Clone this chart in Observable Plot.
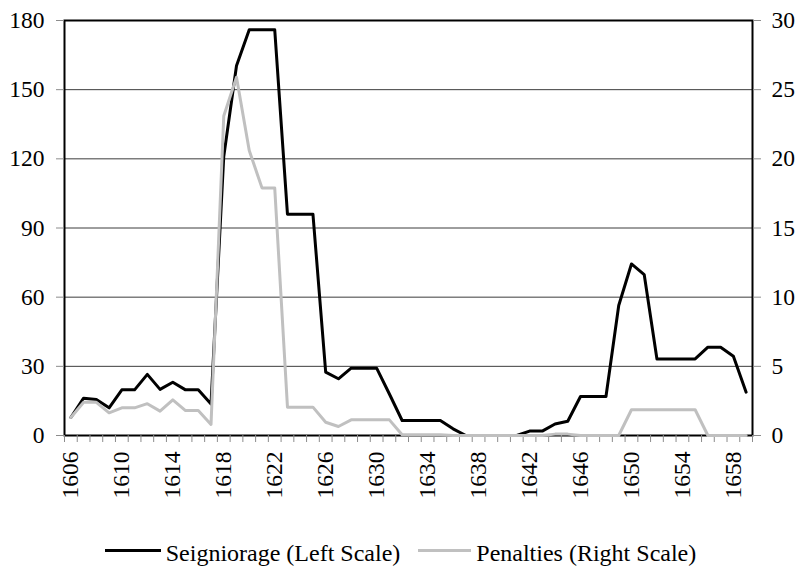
<!DOCTYPE html>
<html><head><meta charset="utf-8">
<script src="https://cdn.jsdelivr.net/npm/d3@7"></script>
<script src="https://cdn.jsdelivr.net/npm/@observablehq/plot@0.6"></script>
<style>
body{margin:0;background:#fff;font-family:'Liberation Serif',Tinos,'Times New Roman',Times,'DejaVu Serif',serif;}
#chart svg{display:block;}
#legend{display:flex;justify-content:center;align-items:center;height:27px;margin-top:20px;font-size:24px;line-height:27px;color:#000;}
.sw{display:inline-block;width:56px;height:3px;position:relative;top:-3px;}
.lab{margin-left:5px;}
.gap{width:18px;}
</style></head><body><div id="chart"></div><div id="legend"></div>
<script>
const years = [1606,1607,1608,1609,1610,1611,1612,1613,1614,1615,1616,1617,1618,1619,1620,1621,1622,1623,1624,1625,1626,1627,1628,1629,1630,1631,1632,1633,1634,1635,1636,1637,1638,1639,1640,1641,1642,1643,1644,1645,1646,1647,1648,1649,1650,1651,1652,1653,1654,1655,1656,1657,1658,1659];
const seigniorage = [7.8,16.2,15.6,12,19.8,19.8,26.5,20,23.1,19.8,19.8,13.7,121,160.4,176,176,176,96,96,96,27.5,24.6,29.2,29.2,29.2,18,6.5,6.5,6.5,6.5,2.9,0,0,0,0,0,1.9,1.9,5,6.2,16.9,16.9,16.9,56.4,74.4,69.8,33.2,33.2,33.2,33.2,38.3,38.3,34.4,18.8];
const penalties = [1.3,2.4,2.4,1.64,2.0,2.0,2.3,1.76,2.58,1.8,1.8,0.8,23.1,25.9,20.6,17.9,17.9,2.05,2.05,2.05,0.96,0.65,1.13,1.13,1.13,1.13,0.05,0.05,0.05,0.05,0,0,0,0,0,0,0,0,0.1,0.1,0,0,0,0,1.86,1.86,1.86,1.86,1.86,1.86,0,0,0,0];
const leftTicks = [0,30,60,90,120,150,180];
const rightTicks = [0,5,10,15,20,25,30];
const xTickYears = [1606,1610,1614,1618,1622,1626,1630,1634,1638,1642,1646,1650,1654,1658];
const seriesNames = ["Seigniorage (Left Scale)","Penalties (Right Scale)"];
const seriesColors = ["#000000","#c0c0c0"];

const ratio = leftTicks[leftTicks.length-1] / rightTicks[rightTicks.length-1];
const rows = years.map((year,i)=>({year, s: seigniorage[i], p: penalties[i]*ratio}));
const bounds = years.map(y=>y-0.5).concat([years[years.length-1]+0.5]);
const font = "'Liberation Serif', Tinos, 'Times New Roman', Times, 'DejaVu Serif', serif";

const plot = Plot.plot({
  width: 801, height: 520,
  marginLeft: 64, marginRight: 49, marginTop: 20, marginBottom: 85,
  x: {type: "linear", domain: [bounds[0], bounds[bounds.length-1]]},
  y: {domain: [leftTicks[0], leftTicks[leftTicks.length-1]]},
  style: {fontFamily: font, fontSize: "23.5px", background: "#fff", color: "#000"},
  marks: [
    Plot.ruleY(leftTicks.slice(1, -1), {stroke: "#3c3c3c", strokeWidth: 1}),
    Plot.frame({stroke: "#000", strokeWidth: 2}),
    Plot.axisY({ticks: leftTicks, tickSize: 8, tickPadding: 12, stroke: "#8c8c8c", fill: "#000", label: null, fontSize: 23.5, fontFamily: font, tickFormat: d => String(d)}),
    Plot.axisY({anchor: "right", ticks: rightTicks.map(v => v*ratio), tickFormat: v => String(Math.round(v/ratio)), tickSize: 8, tickPadding: 11, stroke: "#8c8c8c", fill: "#000", label: null, fontSize: 23.5, fontFamily: font}),
    Plot.axisX({ticks: bounds, tickSize: 7, tickFormat: () => "", stroke: "#8c8c8c", label: null}),
    Plot.axisX({ticks: xTickYears, tickSize: 0, tickRotate: -90, tickPadding: 16, tickFormat: d => String(d), label: null, fill: "#000", fontSize: 23.5, fontFamily: font}),
    Plot.lineY(rows, {x: "year", y: "s", stroke: seriesColors[0], strokeWidth: 3}),
    Plot.lineY(rows, {x: "year", y: "p", stroke: seriesColors[1], strokeWidth: 3})
  ]
});
document.getElementById("chart").appendChild(plot);

const legend = document.getElementById("legend");
seriesNames.forEach((name, i) => {
  if (i > 0) { const g = document.createElement("span"); g.className = "gap"; legend.appendChild(g); }
  const sw = document.createElement("span"); sw.className = "sw"; sw.style.background = seriesColors[i]; sw.style.width = (i === 0 ? 56 : 53) + "px";
  const lab = document.createElement("span"); lab.className = "lab"; lab.textContent = name;
  legend.appendChild(sw); legend.appendChild(lab);
});
</script>
</body></html>
